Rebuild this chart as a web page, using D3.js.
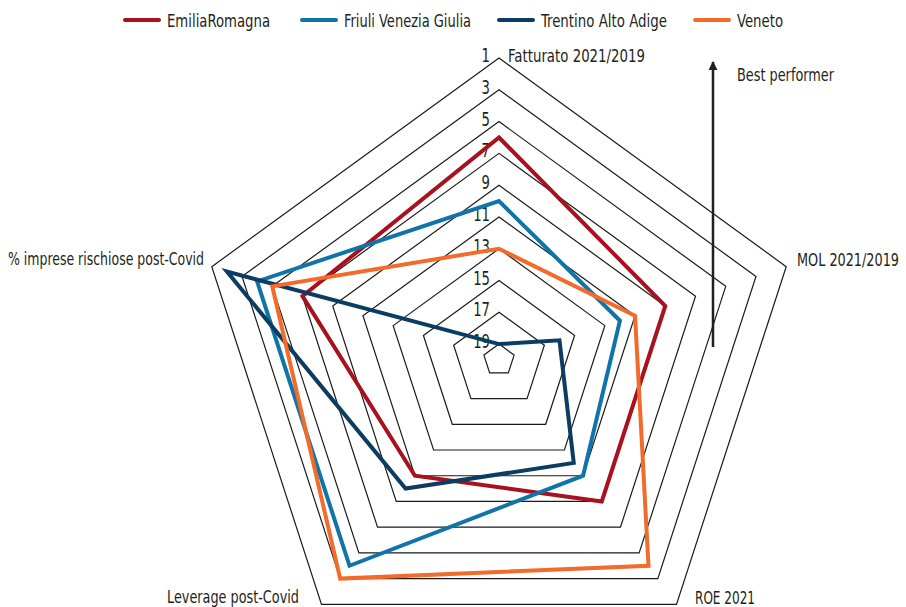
<!DOCTYPE html>
<html>
<head>
<meta charset="utf-8">
<script src="https://cdn.jsdelivr.net/npm/d3@7"></script>
<style>
  body { margin: 0; background: #fff; }
  text { font-family: "Liberation Sans Narrow", "DejaVu Sans Condensed", sans-serif; fill: #231f20; }
</style>
</head>
<body>
<script>
// chart size
var w = 906;
var h = 607;

// data: ranking of each region (1 = best, 20 = worst)
var axesLabels = ["Fatturato 2021/2019", "MOL 2021/2019", "ROE 2021", "Leverage post-Covid", "% imprese rischiose post-Covid"];
var seriesNames = ["EmiliaRomagna", "Friuli Venezia Giulia", "Trentino Alto Adige", "Veneto"];
var emilia = [6, 9, 9, 11, 7];
var friuli = [10, 12, 11, 4, 4];
var trentino = [19, 16, 12, 10, 2];
var veneto = [13, 11, 4, 3, 5];
var tickValues = [1, 3, 5, 7, 9, 11, 13, 15, 17, 19];
var colors = ["#a8111e", "#0f74a8", "#0c3c61", "#f26b2b"];

var allSeries = [emilia, friuli, trentino, veneto];

var cx = 499, cy = 360, R = 302;

// the original font is a condensed one, so squeeze text to its widths
function squeeze(sel, width) {
    sel.attr("textLength", width).attr("lengthAdjust", "spacingAndGlyphs");
}

var svg = d3.select("body")
    .append("svg")
    .attr("width", w)
    .attr("height", h);

// radius scale: rank 1 on the outer ring, 20 at the centre
var rScale = d3.scaleLinear()
    .domain([20, 1])
    .range([0, R]);

var angleScale = d3.scaleLinear()
    .domain([0, axesLabels.length])
    .range([0, 2 * Math.PI]);

var g = svg.append("g")
    .attr("transform", "translate(" + cx + "," + cy + ")");

// grid rings
var ringLine = d3.lineRadial()
    .angle(function(d, i) { return angleScale(i); })
    .radius(function(d) { return rScale(d); })
    .curve(d3.curveLinearClosed);

g.selectAll(".ring")
    .data(tickValues)
    .enter()
    .append("path")
    .attr("class", "ring")
    .attr("d", function(t) { return ringLine(axesLabels.map(function() { return t; })); })
    .attr("fill", "none")
    .attr("stroke", "#1a1a1a")
    .attr("stroke-width", 1.2);

// tick labels on the top axis
g.selectAll(".tick")
    .data(tickValues)
    .enter()
    .append("text")
    .attr("class", "tick")
    .attr("x", -9)
    .attr("y", function(t) { return -rScale(t) + 4; })
    .attr("text-anchor", "end")
    .attr("font-size", 19)
    .attr("textLength", function(t) { return String(t).length * 8.4; })
    .attr("lengthAdjust", "spacingAndGlyphs")
    .text(function(t) { return t; });

// series
var seriesLine = d3.lineRadial()
    .angle(function(d, i) { return angleScale(i); })
    .radius(function(d) { return rScale(d); })
    .curve(d3.curveLinearClosed);

g.selectAll(".series")
    .data(allSeries)
    .enter()
    .append("path")
    .attr("class", "series")
    .attr("d", seriesLine)
    .attr("fill", "none")
    .attr("stroke", function(d, i) { return colors[i]; })
    .attr("stroke-width", 4)
    .attr("stroke-linejoin", "miter");

// axis labels (placed by hand like the original)
var labelPos = [
    { x: 508, y: 62, len: 137 },
    { x: 797, y: 266, len: 102 },
    { x: 695, y: 604, len: 60 },
    { x: 167, y: 603, len: 132 },
    { x: 8, y: 265, len: 196 }
];
svg.selectAll(".axis-label")
    .data(axesLabels)
    .enter()
    .append("text")
    .attr("class", "axis-label")
    .attr("x", function(d, i) { return labelPos[i].x; })
    .attr("y", function(d, i) { return labelPos[i].y; })
    .attr("font-size", 18.5)
    .attr("textLength", function(d, i) { return labelPos[i].len; })
    .attr("lengthAdjust", "spacingAndGlyphs")
    .text(function(d) { return d; });

// legend
var legendX = [125, 302, 499, 695];
var legendLen = [103, 127, 126, 46];
var legend = svg.selectAll(".legend")
    .data(seriesNames)
    .enter()
    .append("g")
    .attr("class", "legend")
    .attr("transform", function(d, i) { return "translate(" + legendX[i] + ",20)"; });
legend.append("line")
    .attr("x1", 0).attr("x2", 34)
    .attr("y1", 0).attr("y2", 0)
    .attr("stroke", function(d, i) { return colors[i]; })
    .attr("stroke-width", 4)
    .attr("stroke-linecap", "round");
legend.append("text")
    .attr("x", 42)
    .attr("y", 6.5)
    .attr("font-size", 18.5)
    .attr("textLength", function(d, i) { return legendLen[i]; })
    .attr("lengthAdjust", "spacingAndGlyphs")
    .text(function(d) { return d; });

// best performer arrow
svg.append("defs").append("marker")
    .attr("id", "arrow")
    .attr("viewBox", "0 0 10 10")
    .attr("refX", 9).attr("refY", 5)
    .attr("markerWidth", 3.6).attr("markerHeight", 4)
    .attr("orient", "auto")
    .append("path")
    .attr("d", "M0,0 L10,5 L0,10 Z")
    .attr("fill", "#231f20");
svg.append("line")
    .attr("x1", 713).attr("y1", 347)
    .attr("x2", 713).attr("y2", 62)
    .attr("stroke", "#231f20")
    .attr("stroke-width", 2.5)
    .attr("marker-end", "url(#arrow)");
svg.append("text")
    .attr("x", 737)
    .attr("y", 81)
    .attr("font-size", 18.5)
    .call(squeeze, 97)
    .text("Best performer");
</script>
</body>
</html>
